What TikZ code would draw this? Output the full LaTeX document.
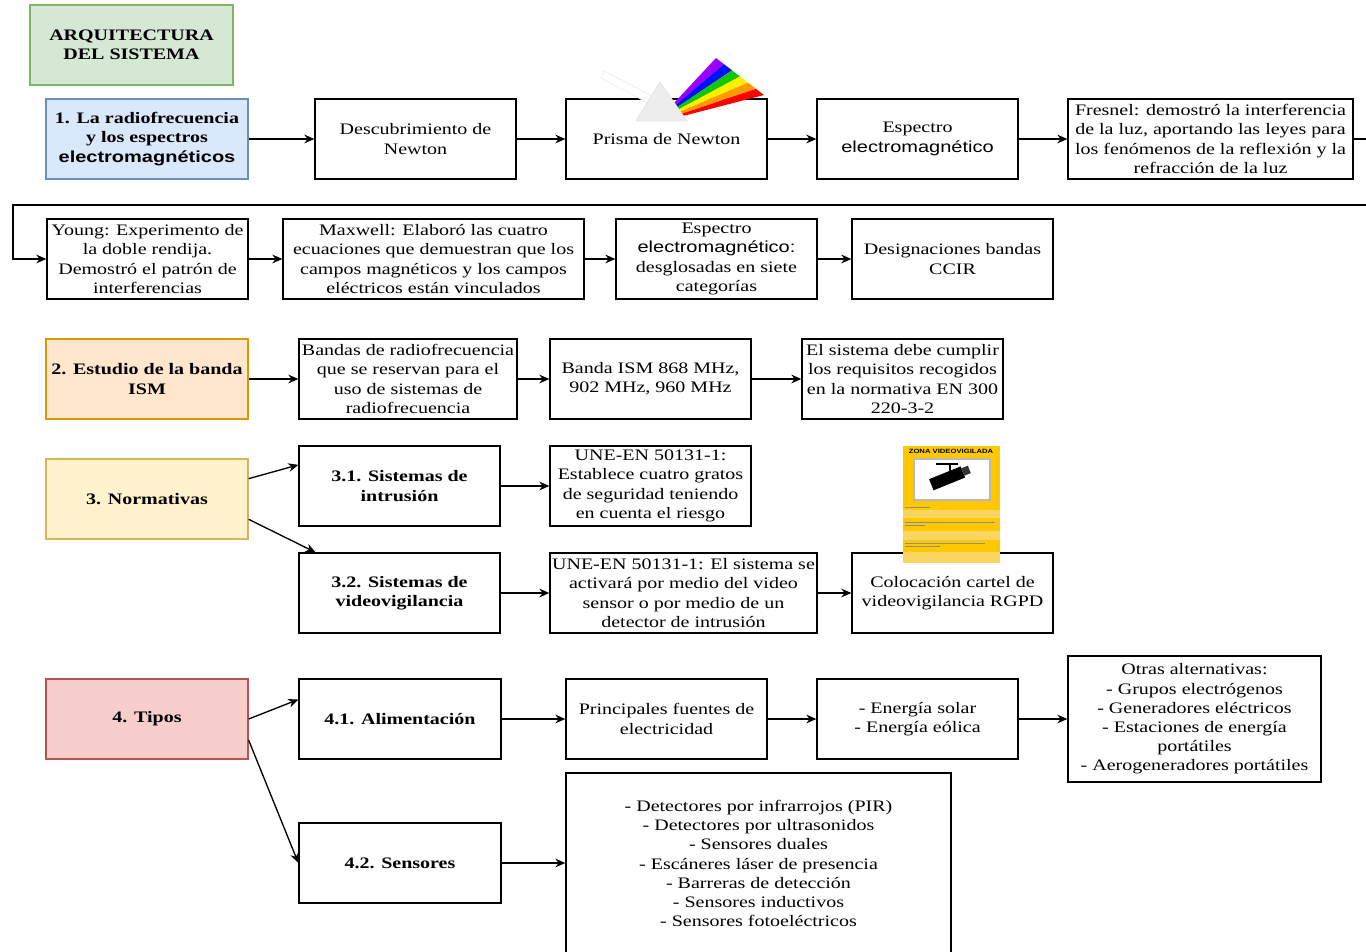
\documentclass[tikz,border=0pt]{standalone}
\usepackage{fontspec}
\setmainfont{Liberation Serif}[FakeStretch=1.25]
\newfontfamily\arialf{Liberation Sans}[FakeStretch=1.25]
\usetikzlibrary{arrows.meta,calc}
\definecolor{gFill}{HTML}{D5E8D4}\definecolor{gLine}{HTML}{82B366}
\definecolor{bFill}{HTML}{DAE8FC}\definecolor{bLine}{HTML}{6C8EBF}
\definecolor{oFill}{HTML}{FFE6CC}\definecolor{oLine}{HTML}{D79B00}
\definecolor{yFill}{HTML}{FFF2CC}\definecolor{yLine}{HTML}{D6B656}
\definecolor{rFill}{HTML}{F8CECC}\definecolor{rLine}{HTML}{B85450}
\definecolor{signY}{HTML}{FFC800}\definecolor{signL}{HTML}{FAD660}
\definecolor{rbA}{HTML}{9A00FF}\definecolor{rbB}{HTML}{0010FF}
\definecolor{rbC}{HTML}{10C800}\definecolor{rbD}{HTML}{FFF000}
\definecolor{rbE}{HTML}{FF9A00}\definecolor{rbF}{HTML}{FF0000}
\newcommand{\bx}[7]{\node[#6, minimum width={(#4-#2)*0.75pt}, minimum height={(#5-#3)*0.75pt}] (#1) at ({(#2+#4)/2},{(#3+#5)/2}) {#7};}
\newcommand{\sfw}[1]{{\arialf #1}}
\tikzset{
  box/.style={draw=black, line width=1pt, fill=white, align=center, inner sep=0pt, text=black, font=\fontsize{12}{14.4}\selectfont},
  boldbox/.style={box, font=\fontsize{12}{14.4}\selectfont\bfseries},
  arr/.style={draw=black, line width=1pt, -{Stealth[length=7.5pt,width=6.5pt]}},
}
\begin{document}
\begin{tikzpicture}[x=0.75pt,y=-0.75pt]
\useasboundingbox (0,0) rectangle (1366,952);
% title
\bx{title}{30}{5}{233}{85}{boldbox, fill=gFill, draw=gLine}{ARQUITECTURA\\DEL SISTEMA}
% row 1
\bx{n1}{46}{99}{248}{179}{boldbox, fill=bFill, draw=bLine}{1. La radiofrecuencia\\y los espectros\\\sfw{electromagnéticos}}
\bx{desc}{315}{99}{516}{179}{box}{Descubrimiento de\\Newton}
\bx{prism}{566}{99}{767}{179}{box}{Prisma de Newton}
\bx{esp}{817}{99}{1018}{179}{box}{Espectro\\\sfw{electromagnético}}
\bx{fres}{1068}{99}{1353}{179}{box}{Fresnel: demostró la interferencia\\de la luz, aportando las leyes para\\los fenómenos de la reflexión y la\\refracción de la luz}
% row 2
\bx{young}{47}{219}{248}{299}{box}{Young: Experimento de\\la doble rendija.\\Demostró el patrón de\\interferencias}
\bx{maxw}{283}{219}{584}{299}{box}{Maxwell: Elaboró las cuatro\\ecuaciones que demuestran que los\\campos magnéticos y los campos\\eléctricos están vinculados}
\bx{esp2}{616}{219}{817}{299}{box}{Espectro\\\sfw{electromagnético:}\\desglosadas en siete\\categorías}
\bx{desig}{852}{219}{1053}{299}{box}{Designaciones bandas\\CCIR}
% row 3
\bx{n2}{46}{339}{248}{419}{boldbox, fill=oFill, draw=oLine}{2. Estudio de la banda\\ISM}
\bx{bandas}{299}{339}{517}{419}{box}{Bandas de radiofrecuencia\\que se reservan para el\\uso de sistemas de\\radiofrecuencia}
\bx{ism}{550}{339}{751}{419}{box}{Banda ISM 868 MHz,\\902 MHz, 960 MHz}
\bx{elsis}{802}{339}{1003}{419}{box}{El sistema debe cumplir\\los requisitos recogidos\\en la normativa EN 300\\220-3-2}
% row 4
\bx{n3}{46}{459}{248}{539}{boldbox, fill=yFill, draw=yLine}{3. Normativas}
\bx{s31}{299}{446}{500}{526}{boldbox}{3.1. Sistemas de\\intrusión}
\bx{une1}{550}{446}{751}{526}{box}{UNE-EN 50131-1:\\Establece cuatro gratos\\de seguridad teniendo\\en cuenta el riesgo}
\bx{s32}{299}{553}{500}{633}{boldbox}{3.2. Sistemas de\\videovigilancia}
\bx{une2}{550}{553}{817}{633}{box}{UNE-EN 50131-1: El sistema se\\activará por medio del video\\sensor o por medio de un\\detector de intrusión}
\bx{coloc}{852}{553}{1053}{633}{box}{Colocación cartel de\\videovigilancia RGPD}
% row 5
\bx{n4}{46}{679}{248}{759}{boldbox, fill=rFill, draw=rLine}{4. Tipos}
\bx{s41}{299}{679}{501}{759}{boldbox}{4.1. Alimentación}
\bx{princ}{566}{679}{767}{759}{box}{Principales fuentes de\\electricidad}
\bx{energ}{817}{679}{1018}{759}{box}{- Energía solar\\- Energía eólica}
\bx{otras}{1068}{656}{1321}{782}{box}{Otras alternativas:\\- Grupos electrógenos\\- Generadores eléctricos\\- Estaciones de energía\\portátiles\\- Aerogeneradores portátiles}
\bx{s42}{299}{823}{501}{903}{boldbox}{4.2. Sensores}
\bx{sens}{566}{773}{951}{954}{box}{- Detectores por infrarrojos (PIR)\\- Detectores por ultrasonidos\\- Sensores duales\\- Escáneres láser de presencia\\- Barreras de detección\\- Sensores inductivos\\- Sensores fotoeléctricos}

% prism picture
\filldraw[fill=white, draw=gray!15, line width=0.5pt] (604,71) -- (652,96) -- (648,103) -- (601,78) -- cycle;
\coordinate (I0) at (674,103); \coordinate (I1) at (683,116);
\coordinate (O0) at (716,58); \coordinate (O1) at (764,95);
\foreach \c [count=\i from 0] in {rbA,rbB,rbC,rbD,rbE,rbF}{
  \pgfmathsetmacro\ta{\i/6}\pgfmathsetmacro\tb{(\i+1)/6}
  \fill[\c] ($(I0)!\ta!(I1)$) -- ($(O0)!\ta!(O1)$) -- ($(O0)!\tb!(O1)$) -- ($(I0)!\tb!(I1)$) -- cycle;
}
\filldraw[fill=gray!14, draw=gray!22, line width=0.5pt] (660,82) -- (687,121) -- (636,121) -- cycle;

% sign picture
\fill[signY] (903,446) rectangle (1000,563);
\fill[signL] (903,510) rectangle (1000,518);
\fill[signL] (903,531) rectangle (1000,540);
\fill[signL] (903,552) rectangle (1000,563);
\node[inner sep=0pt, font=\arialf\bfseries\fontsize{4.6}{5}\selectfont] (signtitle) at (951,451) {ZONA VIDEOVIGILADA};
\filldraw[fill=white, draw=gray!55, line width=0.8pt] (914,459) rectangle (990,500);
\draw[black, line width=1.2pt] (936,464) -- (958,464);
\draw[black, line width=1.8pt] (950,464) -- (950,476);
\fill[black, rotate around={22:(948,478)}] (930,472) rectangle (964,484);
\fill[black!80, rotate around={22:(948,478)}] (964,474) rectangle (971,482);
\draw[black!45, line width=0.4pt] (905,507) -- (930,507);
\draw[black!45, line width=0.4pt] (905,522) -- (995,522);
\draw[black!45, line width=0.4pt] (905,525) -- (925,525);
\draw[black!45, line width=0.4pt] (905,543) -- (985,543);
\draw[black!45, line width=0.4pt] (905,546.5) -- (940,546.5);

% connectors
\draw[arr] (n1.east) -- (desc.west);
\draw[arr] (desc.east) -- (prism.west);
\draw[arr] (prism.east) -- (esp.west);
\draw[arr] (esp.east) -- (fres.west);
\coordinate (cR) at (1369,205);
\coordinate (cL) at (13,205);
\draw[arr] (fres.east) -| (cR) -- (cL) |- (young.west);
\draw[arr] (young.east) -- (maxw.west);
\draw[arr] (maxw.east) -- (esp2.west);
\draw[arr] (esp2.east) -- (desig.west);
\draw[arr] (n2.east) -- (bandas.west);
\draw[arr] (bandas.east) -- (ism.west);
\draw[arr] (ism.east) -- (elsis.west);
\draw[arr] ($(n3.north east)!0.25!(n3.south east)$) -- ($(s31.north west)!0.24!(s31.south west)$);
\draw[arr] ($(n3.north east)!0.75!(n3.south east)$) -- ($(s32.north west)!0.085!(s32.north east)$);
\draw[arr] (s31.east) -- (une1.west);
\draw[arr] (s32.east) -- (une2.west);
\draw[arr] (une2.east) -- (coloc.west);
\draw[arr] (n4.east) -- ($(s41.north west)!0.26!(s41.south west)$);
\draw[arr] ($(n4.north east)!0.76!(n4.south east)$) -- (s42.west);
\draw[arr] (s41.east) -- (princ.west);
\draw[arr] (princ.east) -- (energ.west);
\draw[arr] (energ.east) -- (otras.west);
\draw[arr] (s42.east) -- (s42.east -| sens.west);
\end{tikzpicture}
\end{document}
